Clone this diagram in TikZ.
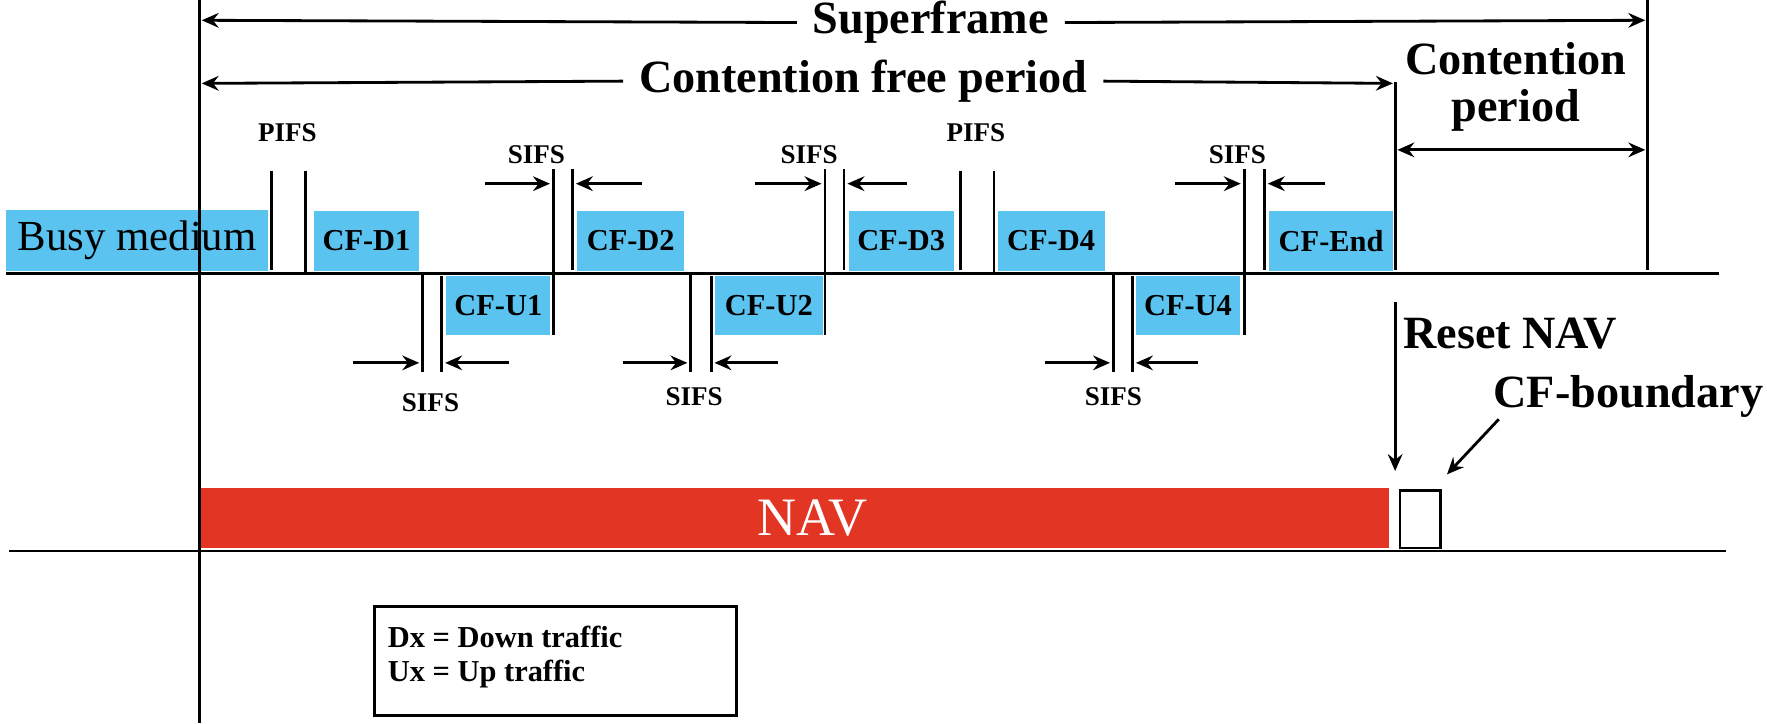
\documentclass[tikz,border=0pt]{standalone}
\usepackage{fontspec}
\setmainfont{Liberation Serif}
\usetikzlibrary{arrows.meta}
\definecolor{pblue}{HTML}{5BC3F0}
\definecolor{navred}{HTML}{E33524}
\begin{document}
\begin{tikzpicture}[x=1pt,y=-1pt,
  ln/.style={line width=2.5pt},
  arr/.style={line width=2.5pt,-{Stealth[length=15pt,width=13pt,inset=5pt]}},
  darr/.style={line width=2.5pt,{Stealth[length=15pt,width=13pt,inset=5pt]}-{Stealth[length=15pt,width=13pt,inset=5pt]}},
  pkt/.style={fill=pblue, inner sep=0pt, anchor=north west, font=\bfseries\fontsize{27}{29}\selectfont},
  big/.style={font=\bfseries\fontsize{41}{42}\selectfont, inner sep=3pt},
  ifs/.style={font=\bfseries\fontsize{24}{26}\selectfont, inner sep=0pt},
  legtext/.style={font=\bfseries\fontsize{27}{30}\selectfont, inner sep=0pt, anchor=base west}
]
\useasboundingbox (0,0) rectangle (1568,641.6);

% frames
\node[pkt, font=\fontsize{38}{40}\selectfont, minimum width=233pt, minimum height=54pt] (busy) at (5,186) {Busy medium};
\node[pkt, minimum width=94pt, minimum height=53pt] (d1) at (278,187) {CF-D1};
\node[pkt, minimum width=92pt, minimum height=52pt] (u1) at (396,245) {CF-U1};
\node[pkt, minimum width=95pt, minimum height=53pt] (d2) at (512,187) {CF-D2};
\node[pkt, minimum width=96pt, minimum height=52pt] (u2) at (634,245) {CF-U2};
\node[pkt, minimum width=93pt, minimum height=53pt] (d3) at (753,187) {CF-D3};
\node[pkt, minimum width=95pt, minimum height=53pt] (d4) at (885,187) {CF-D4};
\node[pkt, minimum width=92pt, minimum height=52pt] (u4) at (1008,245) {CF-U4};
\node[pkt, minimum width=110pt, minimum height=53pt] (cfend) at (1126,187) {CF-End};

% axes
\draw[ln] (177,0) -- (177,641.6);
\draw[ln] (5,243) -- (1525,243);
\draw[ln] (8,489) -- (1532,489);
\draw[ln] (1462,0) -- (1462,240);
\draw[ln] (1238,73) -- (1238,240);

% interframe space markers
\draw[ln] (241,152) -- (241,240);
\draw[ln] (271,152) -- (271,243);
\draw[ln] (375,243) -- (375,330);
\draw[ln] (392,245) -- (392,330);
\draw[ln] (491,150) -- (491,297);
\draw[ln] (508,150) -- (508,240);
\draw[ln] (613,243) -- (613,330);
\draw[ln] (631,245) -- (631,330);
\draw[ln] (732,150) -- (732,297);
\draw[ln] (749,150) -- (749,240);
\draw[ln] (852,152) -- (852,240);
\draw[ln] (882,152) -- (882,243);
\draw[ln] (988,243) -- (988,330);
\draw[ln] (1005,245) -- (1005,330);
\draw[ln] (1104,150) -- (1104,297);
\draw[ln] (1122,150) -- (1122,240);

% labels
\node[ifs] (pifs1) at (255,118) {PIFS};
\node[ifs] (pifs2) at (866,118) {PIFS};
\node[ifs] (sifs1) at (476,137) {SIFS};
\node[ifs] (sifs2) at (718,137) {SIFS};
\node[ifs] (sifs3) at (1098,137) {SIFS};
\node[ifs] (sifs4) at (382,357) {SIFS};
\node[ifs] (sifs5) at (616,352) {SIFS};
\node[ifs] (sifs6) at (988,352) {SIFS};

% SIFS arrows
\coordinate (a1s) at (430,163); \coordinate (a1e) at (488,163);
\coordinate (a2s) at (570,163); \coordinate (a2e) at (511,163);
\coordinate (a3s) at (670,163); \coordinate (a3e) at (729,163);
\coordinate (a4s) at (805,163); \coordinate (a4e) at (752,163);
\coordinate (a5s) at (1043,163); \coordinate (a5e) at (1101,163);
\coordinate (a6s) at (1176,163); \coordinate (a6e) at (1125,163);
\coordinate (b1s) at (313,322); \coordinate (b1e) at (372,322);
\coordinate (b2s) at (452,322); \coordinate (b2e) at (395,322);
\coordinate (b3s) at (553,322); \coordinate (b3e) at (610,322);
\coordinate (b4s) at (690,322); \coordinate (b4e) at (634,322);
\coordinate (b5s) at (927,322); \coordinate (b5e) at (985,322);
\coordinate (b6s) at (1063,322); \coordinate (b6e) at (1008,322);
\foreach \p in {a1,a2,a3,a4,a5,a6,b1,b2,b3,b4,b5,b6}
  \draw[arr] (\p s) -- (\p e);

% superframe and periods
\node[big, inner xsep=14pt] (sf) at (826,20) {Superframe};
\coordinate (sfL) at (179,18); \coordinate (sfR) at (1460,18);
\draw[arr] (sf.west) -- (sfL);
\draw[arr] (sf.east) -- (sfR);
\node[big, inner xsep=14pt] (cfp) at (766,72) {Contention free period};
\coordinate (cfpL) at (179,74); \coordinate (cfpR) at (1236,74);
\draw[arr] (cfp.west) -- (cfpL);
\draw[arr] (cfp.east) -- (cfpR);
\node[big, align=center, inner sep=0pt] (cp) at (1345,77) {Contention\\period};
\coordinate (cpL) at (1240,133); \coordinate (cpR) at (1460,133);
\draw[darr] (cpL) -- (cpR);

% NAV
\node[fill=navred, inner sep=0pt, anchor=north west, minimum width=1054pt, minimum height=53pt] (nav) at (178,433) {};
\node[text=white, inner sep=0pt, font=\fontsize{48}{50}\selectfont] (navtext) at (721,460) {NAV};
\node[draw, line width=2.5pt, fill=white, inner sep=0pt, anchor=north west,
      minimum width=36pt, minimum height=51pt] (bound) at (1241,434) {};
\node[big, anchor=west, inner sep=0pt] (reset) at (1245,296) {Reset NAV};
\coordinate (rs) at (1238,268); \coordinate (re) at (1238,418);
\draw[arr] (rs) -- (re);
\node[big, inner sep=0pt] (cfb) at (1445,352) {CF-boundary};
\coordinate (bs) at (1330,372); \coordinate (be) at (1284,421);
\draw[arr] (bs) -- (be);

% legend
\node[draw, line width=2.5pt, anchor=north west, minimum width=321pt, minimum height=97pt] (legbox) at (331,537) {};
\node[legtext] (leg1) at (344,575) {Dx = Down traffic};
\node[legtext] (leg2) at (344,605) {Ux = Up traffic};
\end{tikzpicture}
\end{document}
